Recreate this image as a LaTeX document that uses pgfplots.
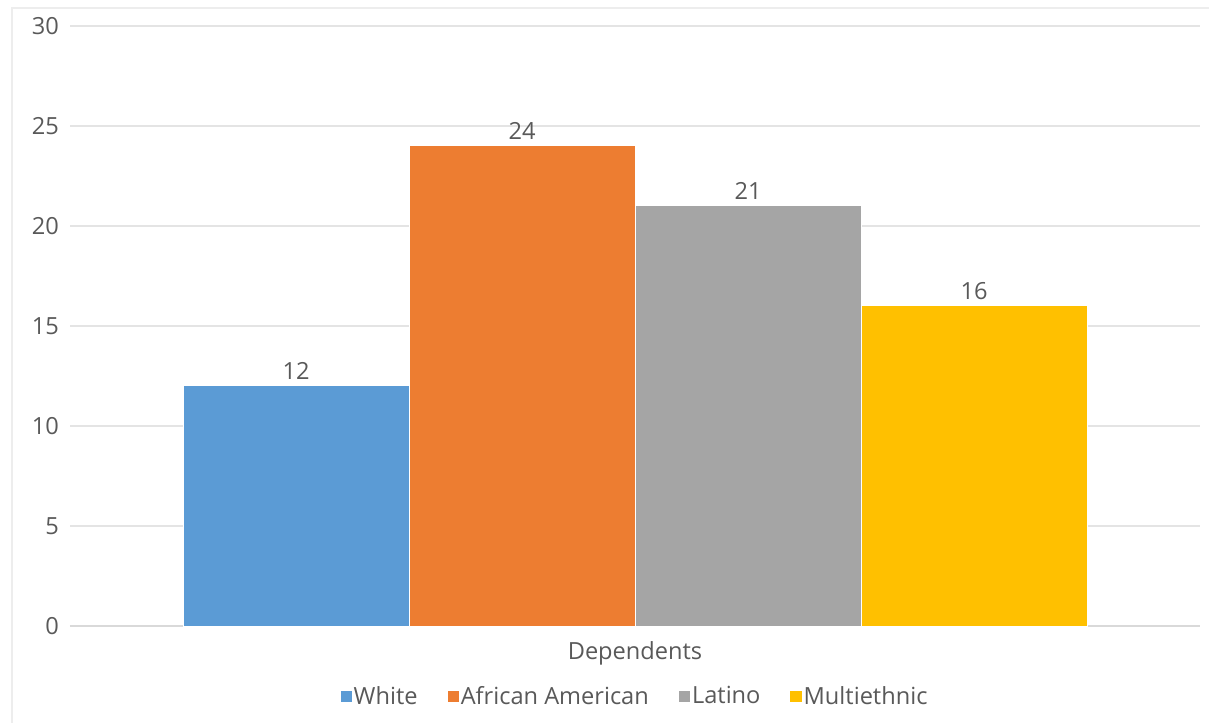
\documentclass[border=0pt]{standalone}
\usepackage{pgfplots}
\pgfplotsset{compat=1.18}
\usepackage{fontspec}
\setmainfont{Open Sans}
\definecolor{cWhite}{HTML}{5B9BD5}
\definecolor{cAA}{HTML}{ED7D31}
\definecolor{cLat}{HTML}{A5A5A5}
\definecolor{cMul}{HTML}{FFC000}
\definecolor{txt}{HTML}{595959}
\definecolor{gridc}{HTML}{E4E4E4}
\definecolor{axisc}{HTML}{D9D9D9}
\definecolor{framec}{HTML}{EDEDED}
\begin{document}
\begin{tikzpicture}[x=1pt,y=1pt]
\path[use as bounding box] (0,0) rectangle (604.5,361.5);
\draw[framec, line width=0.6pt] (6,0) -- (6,357.5) -- (604.5,357.5);
\begin{axis}[
  at={(35pt,48.5pt)}, anchor=south west,
  scale only axis, width=565pt, height=300pt,
  xmin=-1, xmax=1, ymin=0, ymax=30,
  ytick={0,5,...,30},
  xtick={0}, xticklabels={Dependents},
  ybar=0pt, bar width=113pt,
  axis lines*=left,
  x axis line style={axisc, line width=0.8pt},
  y axis line style={draw=none},
  major tick length=0pt,
  ymajorgrids, grid style={gridc, line width=0.8pt},
  tick label style={font=\fontsize{11.8}{14}\selectfont, text=txt},
  yticklabel style={xshift=-2pt},
  xticklabel style={yshift=-4.5pt},
  nodes near coords,
  every node near coord/.append style={font=\fontsize{11.8}{14}\selectfont, text=txt, yshift=-0.5pt},
  /pgf/number format/assume math mode=true,
  legend style={at={(0.5,-0.118)}, anchor=center, draw=none, fill=none,
    legend columns=4, font=\fontsize{11.8}{14}\selectfont, text=txt,
    /tikz/every even column/.append style={column sep=14pt},
    nodes={inner xsep=1pt}},
  legend image code/.code={\fill[#1,draw=none] (0pt,-2.8pt) rectangle (5.6pt,2.8pt);},
]
\addplot[fill=cWhite, draw=white, line width=0.5pt] coordinates {(0,12)};
\addplot[fill=cAA, draw=white, line width=0.5pt] coordinates {(0,24)};
\addplot[fill=cLat, draw=white, line width=0.5pt] coordinates {(0,21)};
\addplot[fill=cMul, draw=white, line width=0.5pt] coordinates {(0,16)};
\legend{White, African American, Latino, Multiethnic}
\end{axis}
\end{tikzpicture}
\end{document}
